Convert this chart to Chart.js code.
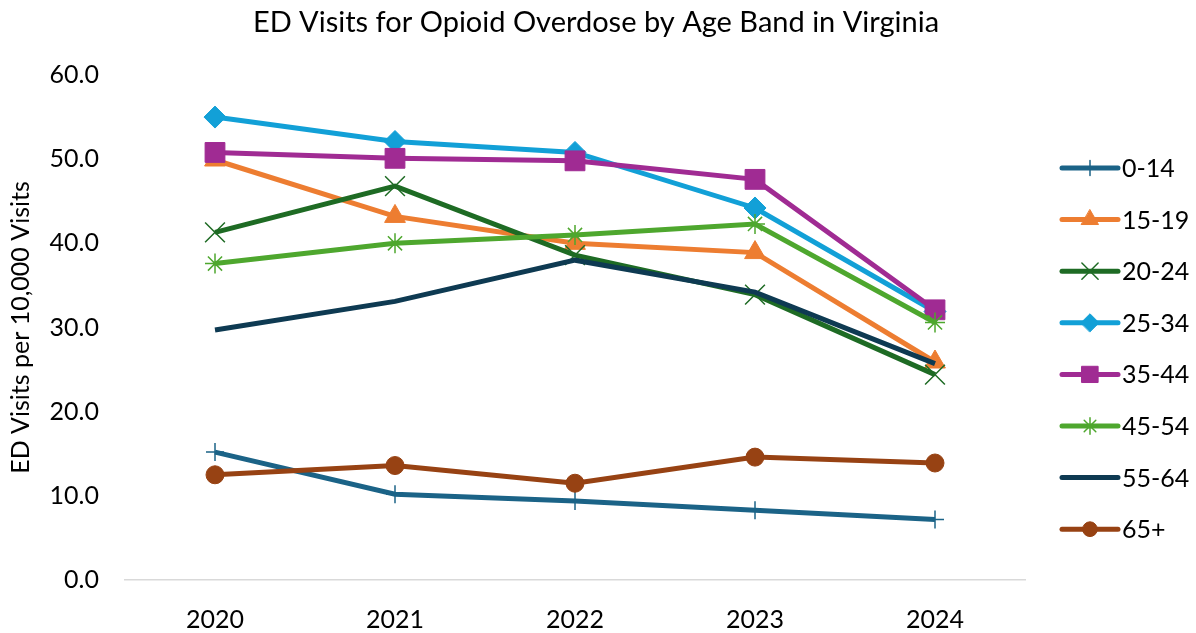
<!DOCTYPE html>
<html>
<head>
<meta charset="utf-8">
<script src="https://cdn.jsdelivr.net/npm/chart.js@4.4.1/dist/chart.umd.min.js"></script>
<style>
html,body{margin:0;padding:0;background:#fff;}
#wrap{width:1196px;height:633px;}
</style>
</head>
<body>
<div id="wrap"><canvas id="c" width="1196" height="633"></canvas></div>
<script>
const years = ['2020', '2021', '2022', '2023', '2024'];
const seriesNames = ['0-14', '15-19', '20-24', '25-34', '35-44', '45-54', '55-64', '65+'];
const age0_14  = [15.2, 10.2, 9.4, 8.3, 7.2];
const age15_19 = [49.9, 43.2, 40.0, 38.9, 25.9];
const age20_24 = [41.3, 46.8, 38.6, 33.9, 24.4];
const age25_34 = [55.0, 52.1, 50.8, 44.2, 31.9];
const age35_44 = [50.8, 50.1, 49.8, 47.6, 32.1];
const age45_54 = [37.6, 40.0, 41.0, 42.3, 30.6];
const age55_64 = [29.7, 33.1, 38.0, 34.2, 25.7];
const age65plus = [12.5, 13.6, 11.5, 14.6, 13.9];
const yTicks = [0, 10, 20, 30, 40, 50, 60];
const chartTitle = 'ED Visits for Opioid Overdose by Age Band in Virginia';
const yTitle = 'ED Visits per 10,000 Visits';

const values = [age0_14, age15_19, age20_24, age25_34, age35_44, age45_54, age55_64, age65plus];
const colors = ['#1B6387', '#ED7D31', '#1E6B24', '#12A0D7', '#A02B93', '#4EA72E', '#0E3A52', '#974213'];
const styles = [
  {ps:'cross', r:9, bw:1.5},
  {ps:'triangle', r:12, bw:1},
  {ps:'crossRot', r:14, bw:1.5},
  {ps:'rectRot', r:11, bw:1},
  {ps:'rect', r:14, bw:1},
  {ps:'star', r:10, bw:1.5},
  {ps:'circle', r:0, bw:0},
  {ps:'circle', r:9, bw:1}
];

const datasets = seriesNames.map((n, i) => ({
  label: n,
  data: values[i],
  borderColor: colors[i],
  backgroundColor: colors[i],
  borderWidth: 5,
  pointStyle: styles[i].ps,
  pointRadius: styles[i].r,
  pointHoverRadius: styles[i].r,
  pointBorderWidth: styles[i].bw,
  pointBorderColor: colors[i],
  pointBackgroundColor: colors[i],
  tension: 0,
  order: 8 - i
}));

const FONT = 'Lato, "Open Sans", sans-serif';

const titleAndLegend = {
  id: 'titleAndLegend',
  afterDraw(chart) {
    const ctx = chart.ctx;
    ctx.save();
    ctx.fillStyle = '#000';
    ctx.font = '29px ' + FONT;
    ctx.textAlign = 'center';
    ctx.textBaseline = 'middle';
    ctx.fillText(chartTitle, 596, 23);

    const x0 = 1062, x1 = 1118, tx = 1122;
    const yStart = 168, step = 51.6;
    seriesNames.forEach((n, i) => {
      const y = yStart + i * step;
      ctx.strokeStyle = colors[i];
      ctx.lineWidth = 5;
      ctx.lineCap = 'round';
      ctx.beginPath();
      ctx.moveTo(x0, y);
      ctx.lineTo(x1, y);
      ctx.stroke();
      if (styles[i].r > 0) {
        ctx.fillStyle = colors[i];
        ctx.strokeStyle = colors[i];
        ctx.lineWidth = styles[i].bw;
        Chart.helpers.drawPoint(ctx, {pointStyle: styles[i].ps, radius: styles[i].r * 0.82, borderWidth: styles[i].bw, rotation: 0}, (x0 + x1) / 2, y);
      }
      ctx.fillStyle = '#000';
      ctx.font = '25px ' + FONT;
      ctx.textBaseline = 'middle';
      ctx.textAlign = 'left';
      ctx.fillText(n, tx, y + 1);
    });
    ctx.restore();
  }
};

new Chart(document.getElementById('c'), {
  type: 'line',
  data: { labels: years, datasets: datasets },
  options: {
    responsive: false,
    animation: false,
    layout: { padding: { left: 0, right: 171, top: 75, bottom: 0 } },
    plugins: {
      legend: { display: false },
      tooltip: { enabled: false },
      title: { display: false }
    },
    scales: {
      x: {
        offset: true,
        grid: { display: false, drawTicks: false },
        border: { display: true, color: '#D9D9D9', width: 1.5 },
        ticks: { color: '#000', font: { family: FONT, size: 25 }, padding: 25 },
        afterFit(s) { s.height = 53; }
      },
      y: {
        min: 0, max: 60,
        afterBuildTicks(s) { s.ticks = yTicks.map(v => ({ value: v })); },
        grid: { display: false, drawTicks: false },
        border: { display: false },
        ticks: {
          color: '#000',
          font: { family: FONT, size: 25 },
          padding: 26,
          callback: v => Number(v).toFixed(1)
        },
        title: {
          display: true,
          text: yTitle,
          color: '#000',
          font: { family: FONT, size: 25 },
          padding: { top: 6, bottom: 0 }
        },
        afterFit(s) { s.width = 125; }
      }
    }
  },
  plugins: [titleAndLegend]
});
</script>
</body>
</html>
